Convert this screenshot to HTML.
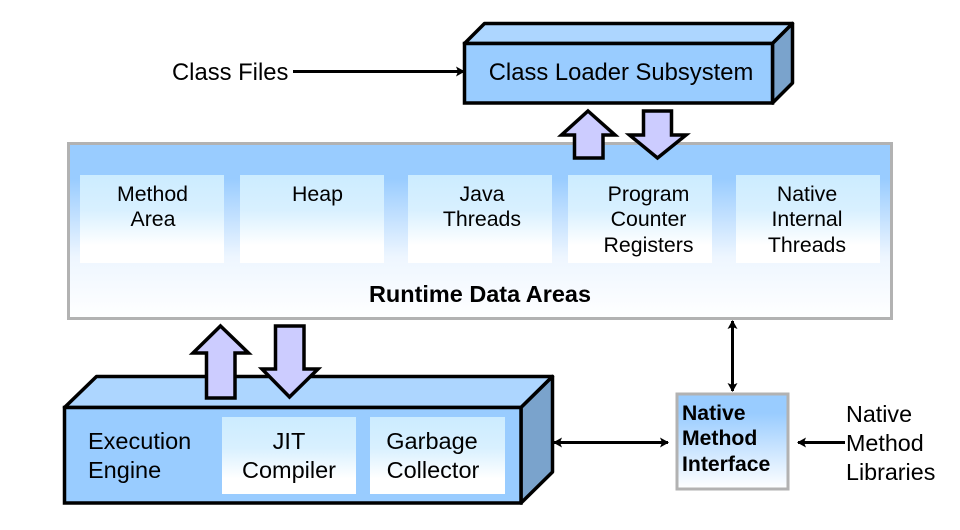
<!DOCTYPE html>
<html><head><meta charset="utf-8"><style>
html,body{margin:0;padding:0;background:#fff}
svg{display:block}
text{font-family:"Liberation Sans",Arial,sans-serif;fill:#000}
</style></head><body>
<svg width="960" height="530" viewBox="0 0 960 530" xmlns="http://www.w3.org/2000/svg">
<defs>
<linearGradient id="g1" x1="0" y1="0" x2="0" y2="1"><stop offset="0" stop-color="#99ccff"/><stop offset=".2" stop-color="#99ccff"/><stop offset=".65" stop-color="#eef6ff"/><stop offset="1" stop-color="#fff"/></linearGradient>
<linearGradient id="g2" x1="0" y1="0" x2="0" y2="1"><stop offset="0" stop-color="#ccecff"/><stop offset=".4" stop-color="#d8f0ff"/><stop offset=".8" stop-color="#fff"/><stop offset="1" stop-color="#fff"/></linearGradient>
<linearGradient id="g3" x1="0" y1="0" x2="0" y2="1"><stop offset="0" stop-color="#99ccff"/><stop offset=".2" stop-color="#99ccff"/><stop offset="1" stop-color="#fff"/></linearGradient>
<marker id="ah" markerUnits="userSpaceOnUse" markerWidth="10" markerHeight="10" refX="8" refY="5" orient="auto-start-reverse"><path d="M0 0L9 5L0 10L2 5Z" fill="#000"/></marker>
</defs>
<!-- Runtime -->
<rect x="68.500" y="143.500" width="823" height="175" fill="url(#g1)" stroke="#b2b2b2" stroke-width="3"/>
<g fill="url(#g2)">
<rect x="80" y="175" width="144" height="88"/>
<rect x="240" y="175" width="144" height="88"/>
<rect x="408" y="175" width="144" height="88"/>
<rect x="568" y="175" width="144" height="88"/>
<rect x="736" y="175" width="144" height="88"/>
</g>
<g font-size="21.300" text-anchor="middle">
<text x="152.500" y="201">Method</text><text x="153" y="226">Area</text>
<text x="317.500" y="201">Heap</text>
<text x="482" y="201">Java</text><text x="482" y="226">Threads</text>
<text x="648.500" y="201">Program</text><text x="648.500" y="226">Counter</text><text x="648.500" y="252">Registers</text>
<text x="807" y="201">Native</text><text x="807" y="226">Internal</text><text x="807" y="252">Threads</text>
</g>
<text x="480" y="302" font-size="23.500" font-weight="bold" text-anchor="middle" textLength="222" lengthAdjust="spacingAndGlyphs">Runtime Data Areas</text>
<!-- Class loader -->
<g stroke="#000" stroke-width="3.500" stroke-linejoin="round">
<path d="M464.500 43.500L484.500 23.500H792.500L772.500 43.500Z" fill="#add6ff"/>
<path d="M772.500 43.500L792.500 23.500V83L772.500 103Z" fill="#7aa3cc"/>
<rect x="464.500" y="43.500" width="308" height="59.500" fill="#99ccff" stroke-linejoin="miter"/>
</g>
<text x="621" y="80" font-size="23.800" text-anchor="middle">Class Loader Subsystem</text>
<!-- Execution -->
<g stroke="#000" stroke-width="3.500" stroke-linejoin="round">
<path d="M64.500 407.500L96.500 376.500H552.500L521 407.500Z" fill="#add6ff"/>
<path d="M521 407.500L552.500 376.500V472L521 503Z" fill="#7aa3cc"/>
<rect x="64.500" y="407.500" width="456.500" height="95.500" fill="#99ccff" stroke-linejoin="miter"/>
</g>
<rect x="222" y="417" width="134" height="77" fill="url(#g2)"/>
<rect x="370" y="417" width="135" height="77" fill="url(#g2)"/>
<g font-size="23.500">
<text x="88" y="449">Execution</text><text x="88" y="478">Engine</text>
<text x="289" y="449" text-anchor="middle">JIT</text><text x="289" y="478" text-anchor="middle">Compiler</text>
<text x="432" y="449" text-anchor="middle">Garbage</text><text x="433" y="478" text-anchor="middle">Collector</text>
</g>
<!-- Big arrows -->
<g fill="#ccccff" stroke="#000" stroke-width="3.500" stroke-linejoin="miter">
<path d="M588 111L615 135H603V158H574.500V135H561.500Z"/>
<path d="M643.500 111H671.500V135H686L657.500 158L629.500 135H643.500Z"/>
<path d="M220.500 326L248.500 353H235V398H206.500V353H193Z"/>
<path d="M275.500 326H304V369H318L289.500 397L262 369H275.500Z"/>
</g>
<!-- NMI -->
<rect x="677" y="394" width="111" height="95" fill="url(#g3)" stroke="#b2b2b2" stroke-width="3"/>
<g font-size="21.200" font-weight="bold">
<text x="682" y="420">Native</text><text x="682" y="445">Method</text><text x="682" y="471">Interface</text>
</g>
<!-- Thin arrows -->
<g stroke="#000" stroke-width="3" fill="none">
<line x1="293" y1="71.500" x2="464" y2="71.500" marker-end="url(#ah)"/>
<line x1="732.500" y1="321" x2="732.500" y2="391" marker-start="url(#ah)" marker-end="url(#ah)"/>
<line x1="554" y1="442.500" x2="668" y2="442.500" marker-start="url(#ah)" marker-end="url(#ah)"/>
<line x1="845" y1="442.500" x2="798" y2="442.500" marker-end="url(#ah)"/>
</g>
<text x="172" y="80" font-size="23.800">Class Files</text>
<g font-size="23.300">
<text x="846" y="422">Native</text><text x="846" y="451">Method</text><text x="846" y="480">Libraries</text>
</g>
</svg>
</body></html>
